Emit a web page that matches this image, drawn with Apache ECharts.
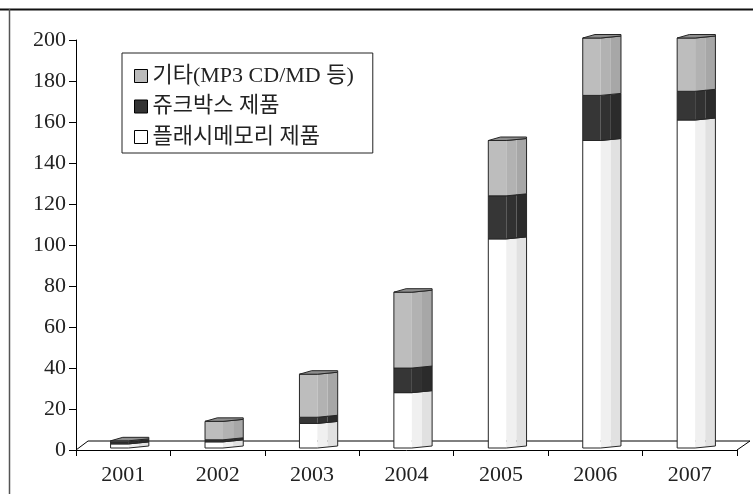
<!DOCTYPE html>
<html>
<head>
<meta charset="utf-8">
<script src="https://cdn.jsdelivr.net/npm/echarts@6/dist/echarts.min.js"></script>
<style>
  html, body { margin: 0; padding: 0; background: #fff; }
  #chart { width: 753px; height: 494px; }
</style>
</head>
<body>
<div id="chart"></div>
<script>
// Years on the category axis
const years = ['2001', '2002', '2003', '2004', '2005', '2006', '2007'];
// Stacked layers, bottom to top
const flashMemory = [2, 3, 12, 27, 102, 150, 160];   // 플래시메모리 제품
const jukebox     = [1, 1, 3, 12, 21, 22, 14];       // 쥬크박스 제품
const others      = [0.5, 9, 21, 37, 27, 28, 26];    // 기타(MP3 CD/MD 등)
const seriesNames = ['플래시메모리 제품', '쥬크박스 제품', '기타(MP3 CD/MD 등)'];
const yTicks = { min: 0, max: 200, interval: 20 };

const FONT = "'Liberation Serif', 'Noto Sans CJK KR', serif";

// Three-tone shading per layer: front, middle bevel, side
const palettes = [
  ['#ffffff', '#f0f0f0', '#e1e1e1'],
  ['#363636', '#313131', '#2b2b2b'],
  ['#bdbdbd', '#b2b2b2', '#a7a7a7']
];
const legendColors = ['#ffffff', '#333333', '#bbbbbb'];

// Build [category, base, top] triples for each layer
const layers = [flashMemory, jukebox, others];
const stacked = layers.map(() => []);
years.forEach((y, i) => {
  let acc = 0;
  layers.forEach((arr, k) => {
    stacked[k].push([i, acc, acc + arr[i]]);
    acc += arr[i];
  });
});

const DX = 6.5, DY = -2;   // depth offset of the bar row
function makeRender(pal, withCap) {
  return function (params, api) {
    const cat = api.value(0);
    const lo = api.coord([cat, api.value(1)]);
    const hi = api.coord([cat, api.value(2)]);
    const band = api.size([1, 0])[0];
    const W = band * 0.405;
    const x0 = lo[0] - W / 2 + DX;
    const yb = lo[1] + DY, yt = hi[1] + DY;
    const w1 = W * 0.47, w2 = W * 0.265;
    const xa = x0 + w1, xb = xa + w2, xc = x0 + W;
    const S = 2;
    const rise = x => x <= xa ? 0 : S * (x - xa) / (xc - xa);
    const children = [
      { type: 'polygon', shape: { points: [[x0, yb], [xa, yb], [xa, yt], [x0, yt]] },
        style: { fill: pal[0] } },
      { type: 'polygon', shape: { points: [[xa, yb], [xb, yb - rise(xb)], [xb, yt - rise(xb)], [xa, yt]] },
        style: { fill: pal[1] } },
      { type: 'polygon', shape: { points: [[xb, yb - rise(xb)], [xc, yb - S], [xc, yt - S], [xb, yt - rise(xb)]] },
        style: { fill: pal[2] } },
      { type: 'polygon', shape: { points: [[x0, yb], [xa, yb], [xc, yb - S], [xc, yt - S], [xa, yt], [x0, yt]] },
        style: { fill: 'none', stroke: '#262626', lineWidth: 1 } }
    ];
    if (withCap) {
      children.push({
        type: 'polygon',
        shape: { points: [[x0, yt], [x0 + W * 0.32, yt - 3.5], [xc, yt - 3.5], [xc, yt - S], [xa, yt]] },
        style: { fill: '#8e8e8e', stroke: '#262626', lineWidth: 1 }
      });
    }
    return { type: 'group', children: children };
  };
}

const chart = echarts.init(document.getElementById('chart'), null, { renderer: 'canvas' });

const series = stacked.map((data, k) => ({
  name: seriesNames[k],
  type: 'custom',
  renderItem: makeRender(palettes[k], k === stacked.length - 1),
  itemStyle: { color: legendColors[k] },
  data: data,
  encode: { x: 0, y: [1, 2] },
  clip: false,
  z: 5
}));

chart.setOption({
  animation: false,
  backgroundColor: '#ffffff',
  grid: { left: 76, right: 16, top: 40, bottom: 44, containLabel: false },
  legend: {
    data: seriesNames.slice().reverse(),
    orient: 'vertical',
    left: 122, top: 53,
    padding: [12, 19, 5, 12],
    itemGap: 8.5,
    itemWidth: 13, itemHeight: 13,
    icon: 'rect',
    itemStyle: { borderColor: '#000', borderWidth: 1 },
    borderColor: '#222', borderWidth: 1,
    textStyle: { fontFamily: FONT, fontSize: 22, color: '#222', lineHeight: 22 },
    selectedMode: false
  },
  xAxis: {
    type: 'category',
    data: years,
    boundaryGap: true,
    axisLine: { lineStyle: { color: '#000', width: 1 } },
    axisTick: { show: true, length: 6, interval: 0, lineStyle: { color: '#000' } },
    axisLabel: { fontFamily: FONT, fontSize: 22, color: '#222', margin: 14 },
    splitLine: { show: false }
  },
  yAxis: {
    type: 'value',
    min: yTicks.min, max: yTicks.max, interval: yTicks.interval,
    axisLine: { show: true, lineStyle: { color: '#000', width: 1 } },
    axisTick: { show: true, length: 7, lineStyle: { color: '#000' } },
    axisLabel: { fontFamily: FONT, fontSize: 22, color: '#222', margin: 10 },
    splitLine: { show: false }
  },
  series: series
});

// Floor plane and the outer frame, placed from the grid's own rectangle
const rect = chart.getModel().getComponent('grid', 0).coordinateSystem.getRect();
const y0 = chart.convertToPixel({ yAxisIndex: 0 }, 0);
const xL = rect.x, xR = rect.x + rect.width;
chart.setOption({
  graphic: [
    { type: 'polyline', z: 1, silent: true,
      shape: { points: [[xL, y0], [xL + 12, y0 - 9], [xR + 13, y0 - 9], [xR, y0]] },
      style: { fill: null, stroke: '#000', lineWidth: 1 } },
    { type: 'line', z: 1, silent: true,
      shape: { x1: 0, y1: 9.5, x2: 753, y2: 9.5 },
      style: { stroke: '#111', lineWidth: 2 } },
    { type: 'line', z: 1, silent: true,
      shape: { x1: 9.5, y1: 9, x2: 9.5, y2: 494 },
      style: { stroke: '#555', lineWidth: 1.5 } }
  ]
});
</script>
</body>
</html>
